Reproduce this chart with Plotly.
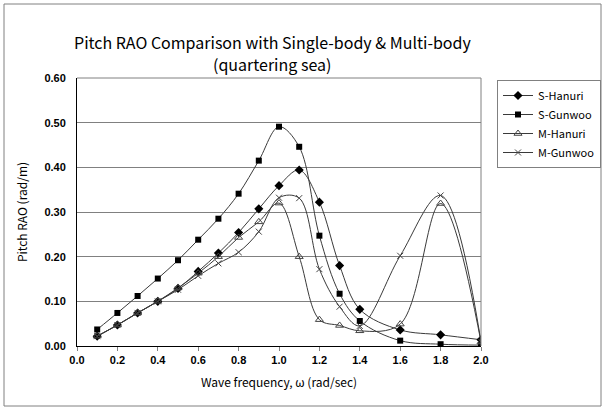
import plotly.graph_objects as go

freq = [0.1, 0.2, 0.3, 0.4, 0.5, 0.6, 0.7, 0.8, 0.9, 1.0, 1.1, 1.2, 1.3, 1.4, 1.6, 1.8, 2.0]
s_hanuri = [0.022, 0.047, 0.074, 0.100, 0.129, 0.167, 0.208, 0.254, 0.307, 0.359, 0.394, 0.322, 0.180, 0.082, 0.036, 0.025, 0.014]
s_gunwoo = [0.037, 0.074, 0.112, 0.151, 0.192, 0.238, 0.285, 0.341, 0.415, 0.491, 0.446, 0.247, 0.117, 0.056, 0.012, 0.004, 0.002]
m_hanuri = [0.022, 0.047, 0.074, 0.100, 0.130, 0.163, 0.200, 0.243, 0.278, 0.320, 0.200, 0.059, 0.046, 0.034, 0.049, 0.319, 0.009]
m_gunwoo = [0.022, 0.047, 0.074, 0.100, 0.126, 0.157, 0.185, 0.210, 0.256, 0.332, 0.331, 0.172, 0.088, 0.045, 0.202, 0.337, 0.010]

series_names = ["S-Hanuri", "S-Gunwoo", "M-Hanuri", "M-Gunwoo"]
x_ticks = [0.0, 0.2, 0.4, 0.6, 0.8, 1.0, 1.2, 1.4, 1.6, 1.8, 2.0]
y_ticks = [0.0, 0.1, 0.2, 0.3, 0.4, 0.5, 0.6]
title_lines = ["Pitch RAO Comparison with Single-body & Multi-body", "(quartering sea)"]

W, H = 605, 410
L, R, T, B = 77, 481, 78, 346

def px(xp):
    return (xp - L) / (R - L)

def py(yp):
    return (B - yp) / (B - T)

styles = [
    dict(symbol="diamond", size=7, color="#000000", line=dict(width=0)),
    dict(symbol="square", size=6, color="#000000", line=dict(width=0)),
    dict(symbol="triangle-up-open", size=7, color="#444444", line=dict(width=1)),
    dict(symbol="x-thin-open", size=6, color="#444444", line=dict(width=1, color="#444444")),
]

fig = go.Figure()
for name, vals, st in zip(series_names, [s_hanuri, s_gunwoo, m_hanuri, m_gunwoo], styles):
    fig.add_trace(go.Scatter(
        x=freq, y=vals, name=name, mode="lines+markers",
        line=dict(color="#3a3a3a", width=1, shape="spline", smoothing=1.0),
        marker=st,
    ))

label_font = dict(family="Noto Sans CJK KR, DejaVu Sans, sans-serif", size=12, color="#000000")
tick_font = dict(family="Liberation Sans, Arial, sans-serif", size=11, color="#000000", weight="bold")
title_font = dict(family="Noto Sans CJK KR, DejaVu Sans, sans-serif", size=16, color="#000000")

annotations = [
    dict(text=title_lines[0], xref="paper", yref="paper", x=px(272), y=py(42),
         xanchor="center", yanchor="middle", showarrow=False, font=title_font),
    dict(text=title_lines[1], xref="paper", yref="paper", x=px(272), y=py(64),
         xanchor="center", yanchor="middle", showarrow=False, font=title_font),
]

fig.update_layout(
    width=W, height=H,
    margin=dict(l=L, r=W - R, t=T, b=H - B, autoexpand=False),
    paper_bgcolor="white", plot_bgcolor="white",
    showlegend=True,
    legend=dict(
        x=497 / W, y=1 - 80 / H, xref="container", yref="container",
        xanchor="left", yanchor="top",
        bordercolor="#808080", borderwidth=1, bgcolor="white",
        font=dict(family="Noto Sans CJK KR, DejaVu Sans, sans-serif", size=11, color="#000000"),
        itemwidth=30, tracegroupgap=0,
    ),
    xaxis=dict(
        range=[0, 2.0], tickmode="array", tickvals=x_ticks,
        ticktext=[f"{v:.1f}" for v in x_ticks],
        showgrid=False, zeroline=False, automargin=False,
        showline=True, linecolor="#000000", linewidth=1,
        ticks="outside", ticklen=4, tickcolor="#808080",
        tickfont=tick_font,
        title=dict(text="Wave frequency, ω (rad/sec)", font=label_font, standoff=13),
    ),
    yaxis=dict(
        range=[0, 0.6], tickmode="array", tickvals=y_ticks,
        ticktext=[f"{v:.2f}" for v in y_ticks],
        showgrid=True, gridcolor="#808080", gridwidth=1,
        zeroline=False, showline=True, linecolor="#000000", linewidth=1, automargin=False,
        ticks="", tickfont=tick_font, ticklabelstandoff=8,
        title=dict(text="Pitch RAO (rad/m)", font=label_font, standoff=14),
    ),
    annotations=annotations,
    shapes=[
        dict(type="line", xref="paper", yref="paper", x0=1, x1=1, y0=0, y1=1,
             line=dict(color="#808080", width=1)),
        dict(type="line", xref="paper", yref="paper", x0=0, x1=1, y0=1, y1=1,
             line=dict(color="#808080", width=1)),
        dict(type="rect", xref="paper", yref="paper",
             x0=px(4), x1=px(601), y0=py(406), y1=py(4),
             line=dict(color="#808080", width=1), fillcolor="rgba(0,0,0,0)"),
    ],
)

fig.write_html("out.html", config={"displayModeBar": False},
               post_script="document.body.style.margin='0';")
